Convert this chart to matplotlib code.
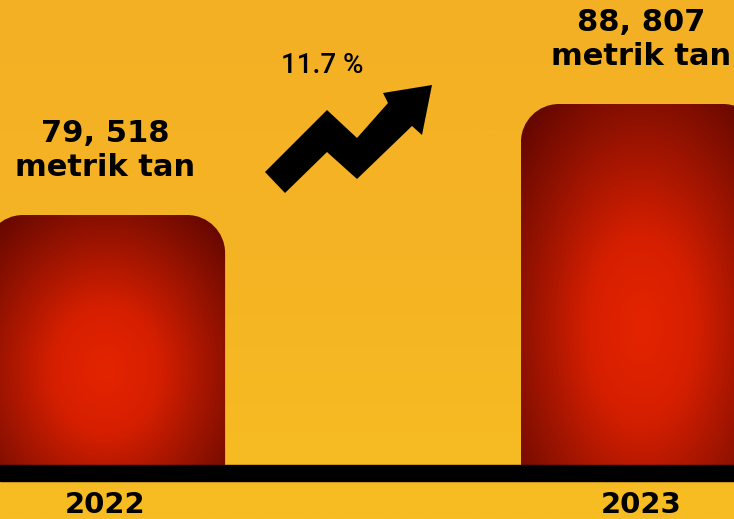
import numpy as np
import matplotlib
matplotlib.use("Agg")
import matplotlib.pyplot as plt
from matplotlib.path import Path
from matplotlib.patches import PathPatch, Polygon
from matplotlib.colors import LinearSegmentedColormap

# data
years = ['2022', '2023']
tonnes = [79518, 88807]
value_labels = ['79, 518', '88, 807']
unit_label = 'metrik tan'
growth_label = '11.7 %'

W, H = 734, 519
fig = plt.figure(figsize=(W / 100, H / 100), dpi=100)

# background gradient
bg = fig.add_axes([0, 0, 1, 1])
bg.axis('off')
bg_cmap = LinearSegmentedColormap.from_list('bg', ['#F4B024', '#F5B424', '#F7BD22'])
bg.imshow(np.linspace(0, 1, 256).reshape(-1, 1), cmap=bg_cmap, aspect='auto', extent=(0, 1, 0, 1))

ax = fig.add_axes([0, 0, 1, 1])
ax.patch.set_alpha(0)
ax.axis('off')

base = 58600
xlim = (-0.196, 1.1735)
ylim = (54080, 97510)
bars = ax.bar(range(len(years)), [v - base for v in tonnes], bottom=base, width=0.448, color='none')
ax.set_xlim(*xlim)
ax.set_ylim(*ylim)

px_x = W / (xlim[1] - xlim[0])
px_y = H / (ylim[1] - ylim[0])


def rounded_top(x0, y0, w, h, rx, ry):
    k = 0.5523
    verts = [(x0, y0), (x0, y0 + h - ry),
             (x0, y0 + h - ry + k * ry), (x0 + rx - k * rx, y0 + h), (x0 + rx, y0 + h),
             (x0 + w - rx, y0 + h),
             (x0 + w - rx + k * rx, y0 + h), (x0 + w, y0 + h - ry + k * ry), (x0 + w, y0 + h - ry),
             (x0 + w, y0), (x0, y0)]
    codes = [Path.MOVETO, Path.LINETO, Path.CURVE4, Path.CURVE4, Path.CURVE4, Path.LINETO,
             Path.CURVE4, Path.CURVE4, Path.CURVE4, Path.LINETO, Path.CLOSEPOLY]
    return Path(verts, codes)


red = LinearSegmentedColormap.from_list('red', [(0, '#E42400'), (0.3, '#D61F00'),
                                                (0.7, '#8E1100'), (1, '#5C0500')])
radius = 38
for b in bars:
    x0, y0 = b.get_x(), b.get_y()
    w, h = b.get_width(), b.get_height()
    u = np.linspace(-1, 1, 200)
    v = np.linspace(-1, 1, 200)
    uu, vv = np.meshgrid(u, v)
    r = np.sqrt(uu ** 2 + ((vv + 0.24) / 1.15) ** 2) / 1.45
    img = ax.imshow(np.clip(r, 0, 1), cmap=red, vmin=0, vmax=1, origin='lower',
                    extent=(x0, x0 + w, y0, y0 + h), aspect='auto', zorder=2)
    clip = PathPatch(rounded_top(x0, y0, w, h, radius / px_x, radius / px_y),
                     facecolor='none', edgecolor='none', transform=ax.transData)
    ax.add_patch(clip)
    img.set_clip_path(clip)

ax.set_xlim(*xlim)
ax.set_ylim(*ylim)

# baseline band
ax.axhspan(base - 16 / px_y, base, color='black', zorder=3)

for i in range(len(years)):
    ax.annotate(unit_label, xy=(i, tonnes[i]), xytext=(0, 28), textcoords='offset points',
                ha='center', va='baseline', fontsize=22, fontweight='bold', color='black')
    ax.annotate(value_labels[i], xy=(i, tonnes[i]), xytext=(0, 52.5), textcoords='offset points',
                ha='center', va='baseline', fontsize=22, fontweight='bold', color='black')
    ax.annotate(years[i], xy=(i, base), xytext=(0, -34.5), textcoords='offset points',
                ha='center', va='baseline', fontsize=21, fontweight='bold', color='black')

# growth arrow
arrow_px = [(265, 172), (327, 110), (357, 138), (388, 103), (383, 93), (432, 85),
            (422, 135), (412, 126), (357, 179), (327, 152), (285, 193)]
fig.patches.append(Polygon([(x / W, 1 - y / H) for x, y in arrow_px], closed=True,
                           facecolor='black', edgecolor='none', transform=fig.transFigure))
fig.text(322 / W, 1 - 73 / H, growth_label, ha='center', va='baseline', fontsize=20,
         family='Roboto', fontweight='medium', color='black')

fig.savefig('out.png', dpi=100)
